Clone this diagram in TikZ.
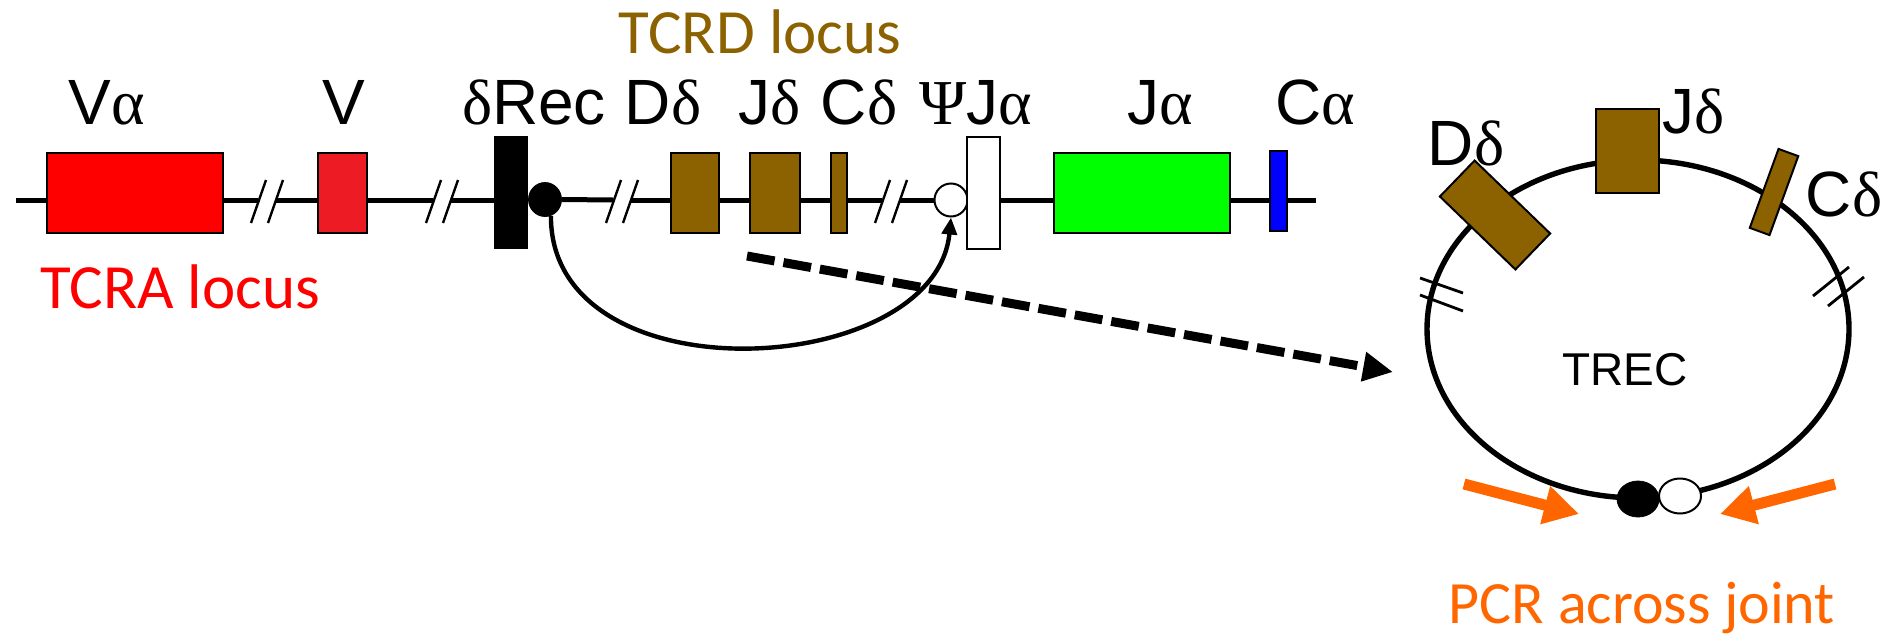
\documentclass[tikz,border=0pt]{standalone}
\usepackage{fontspec}
\setmainfont{Liberation Sans}
\newfontfamily\grk{Liberation Serif}
\newfontfamily\calib{Carlito}
\usetikzlibrary{arrows.meta,calc,shapes.geometric}
\definecolor{brn}{RGB}{140,98,0}
\definecolor{vred}{RGB}{237,28,36}
\definecolor{org}{RGB}{255,102,0}
\definecolor{grn}{RGB}{0,255,0}
\definecolor{blu}{RGB}{0,0,255}
\newcommand\brkmarks[1]{\draw[slash] (#1,223) -- ++(15,-43); \draw[slash] ({#1+17},223) -- ++(15,-43);}
\begin{document}
\begin{tikzpicture}[x=0.5pt,y=-0.5pt,
  gbox/.style={draw=black, line width=1pt, inner sep=0pt, outer sep=0pt},
  lbl/.style={anchor=base, inner sep=0pt, font=\fontsize{32}{36}\selectfont},
  loc/.style={anchor=base, inner sep=0pt, font=\calib\fontsize{31.5}{36}\selectfont},
  pcrf/.style={anchor=base, inner sep=0pt, text=org, font=\calib\fontsize{30}{34}\selectfont},
  mainline/.style={line width=2.5pt},
  slash/.style={line width=1.2pt},
  ringline/.style={line width=1.4pt}]
\useasboundingbox (0,0) rectangle (1893,637);
% reference coordinates on the locus line
\coordinate (L0) at (16,200);
\coordinate (Lend) at (1316,200);
\coordinate (b1a) at (258,200); \coordinate (b1b) at (276,200);
\coordinate (b2a) at (433,200); \coordinate (b2b) at (451,200);
\coordinate (b3a) at (613,200); \coordinate (b3b) at (631,200);
\coordinate (b4a) at (882,200); \coordinate (b4b) at (900,200);
% gene segments
\node[gbox, fill=red, minimum width=88pt, minimum height=40pt] (va) at (135,193) {};
\node[gbox, fill=vred, minimum width=24.5pt, minimum height=40pt] (v) at (342.5,193) {};
\node[fill=black, inner sep=0pt, minimum width=17pt, minimum height=56.5pt] (rec) at (511,192.5) {};
\node[draw, fill=black, ellipse, inner sep=0pt, minimum width=16.5pt, minimum height=17pt] (dot) at (545,199.5) {};
\node[gbox, fill=brn, minimum width=24pt, minimum height=40pt] (dd) at (695,193) {};
\node[gbox, fill=brn, minimum width=25pt, minimum height=40pt] (jd) at (775,193) {};
\node[gbox, fill=brn, minimum width=8pt, minimum height=40pt] (cd) at (839,193) {};
\node[draw, fill=white, ellipse, line width=1pt, inner sep=0pt, minimum width=16.5pt, minimum height=16.5pt] (oc) at (951,200) {};
\node[gbox, fill=white, minimum width=16.5pt, minimum height=56pt] (wr) at (983.5,193) {};
\node[gbox, fill=grn, minimum width=88pt, minimum height=40pt] (ja) at (1142,193) {};
\node[gbox, fill=blu, minimum width=8.5pt, minimum height=40pt] (ca) at (1278.5,191) {};
% locus line
\draw[mainline] (L0) -- (va.west |- L0);
\draw[mainline] (va.east |- L0) -- (b1a);
\draw[mainline] (b1b) -- (v.west |- L0);
\draw[mainline] (v.east |- L0) -- (b2a);
\draw[mainline] (b2b) -- (rec.west |- L0);
\draw[mainline] (dot.east) -- (b3a);
\draw[mainline] (b3b) -- (dd.west |- L0);
\draw[mainline] (dd.east |- L0) -- (jd.west |- L0);
\draw[mainline] (jd.east |- L0) -- (cd.west |- L0);
\draw[mainline] (cd.east |- L0) -- (b4a);
\draw[mainline] (b4b) -- (oc.west);
\draw[mainline] (wr.east |- L0) -- (ja.west |- L0);
\draw[mainline] (ja.east |- L0) -- (ca.west |- L0);
\draw[mainline] (ca.east |- L0) -- (Lend);
\brkmarks{251}
\brkmarks{426}
\brkmarks{606}
\brkmarks{875}
% labels
\node[lbl] (lva) at (107,124) {V{\grk α}};
\node[lbl] (lv) at (344,124) {V};
\node[lbl] (lrec) at (534,124) {{\grk δ}Rec};
\node[lbl] (ldd) at (663,124) {D{\grk δ}};
\node[lbl] (ljd) at (770,124) {J{\grk δ}};
\node[lbl] (lcd) at (859,124) {C{\grk δ}};
\node[lbl] (lpj) at (976,124) {{\grk Ψ}J{\grk α}};
\node[lbl] (lja) at (1160,124) {J{\grk α}};
\node[lbl] (lca) at (1315,124) {C{\grk α}};
\node[loc, text=red] (tcra) at (180,308) {TCRA locus};
\node[loc, text=brn] (tcrd) at (760,53) {TCRD locus};
% recombination arrow
\draw[line width=2.2pt, -{Triangle[length=8.5pt,width=7.5pt]}] (dot.-70) .. controls (550,400) and (935,380) .. (oc.south);
% dashed arrow to TREC
\coordinate (ds) at (747,256);
\coordinate (de) at (1393,372);
\draw[line width=4.5pt, dash pattern=on 14pt off 4.5pt, -{Triangle[length=15pt,width=14pt]}] (ds) -- (de);
% TREC circle
\node[draw, ellipse, line width=2.7pt, inner sep=0pt, minimum width=211pt, minimum height=169pt] (trec) at (1638,329) {};
\node[gbox, fill=brn, minimum width=31.5pt, minimum height=42pt] (tj) at (1627,151) {};
\node[gbox, fill=brn, minimum width=52.5pt, minimum height=25pt, rotate=-44] (tdd) at (1495,215) {};
\node[gbox, fill=brn, minimum width=10.5pt, minimum height=42pt, rotate=-20] (tcd) at (1774,192) {};
\draw[ringline] (1420,278) -- (1463,293);
\draw[ringline] (1420,295) -- (1463,311);
\draw[ringline] (1813,296) -- (1849,267);
\draw[ringline] (1828,306) -- (1864,277);
\node[lbl] (ltdd) at (1466,165) {D{\grk δ}};
\node[lbl] (ltjd) at (1694,133) {J{\grk δ}};
\node[lbl] (ltcd) at (1844,216) {C{\grk δ}};
\node[anchor=base, inner sep=0pt, font=\fontsize{23}{26}\selectfont] (trect) at (1625,385) {TREC};
% joint
\node[draw, fill=black, ellipse, inner sep=0pt, minimum width=21pt, minimum height=18pt] (jb) at (1638,499) {};
\node[draw, fill=white, ellipse, line width=1pt, inner sep=0pt, minimum width=21pt, minimum height=17.5pt] (jw) at (1680,496) {};
% PCR arrows
\coordinate (oa1) at (1464,484); \coordinate (oa1t) at (1579,514);
\coordinate (oa2) at (1835,484); \coordinate (oa2t) at (1720,514);
\draw[org, line width=5.5pt, -{Triangle[length=17.5pt,width=18.5pt]}] (oa1) -- (oa1t);
\draw[org, line width=5.5pt, -{Triangle[length=17.5pt,width=18.5pt]}] (oa2) -- (oa2t);
\node[pcrf] (pcr) at (1642,623) {PCR across joint};
\end{tikzpicture}
\end{document}
